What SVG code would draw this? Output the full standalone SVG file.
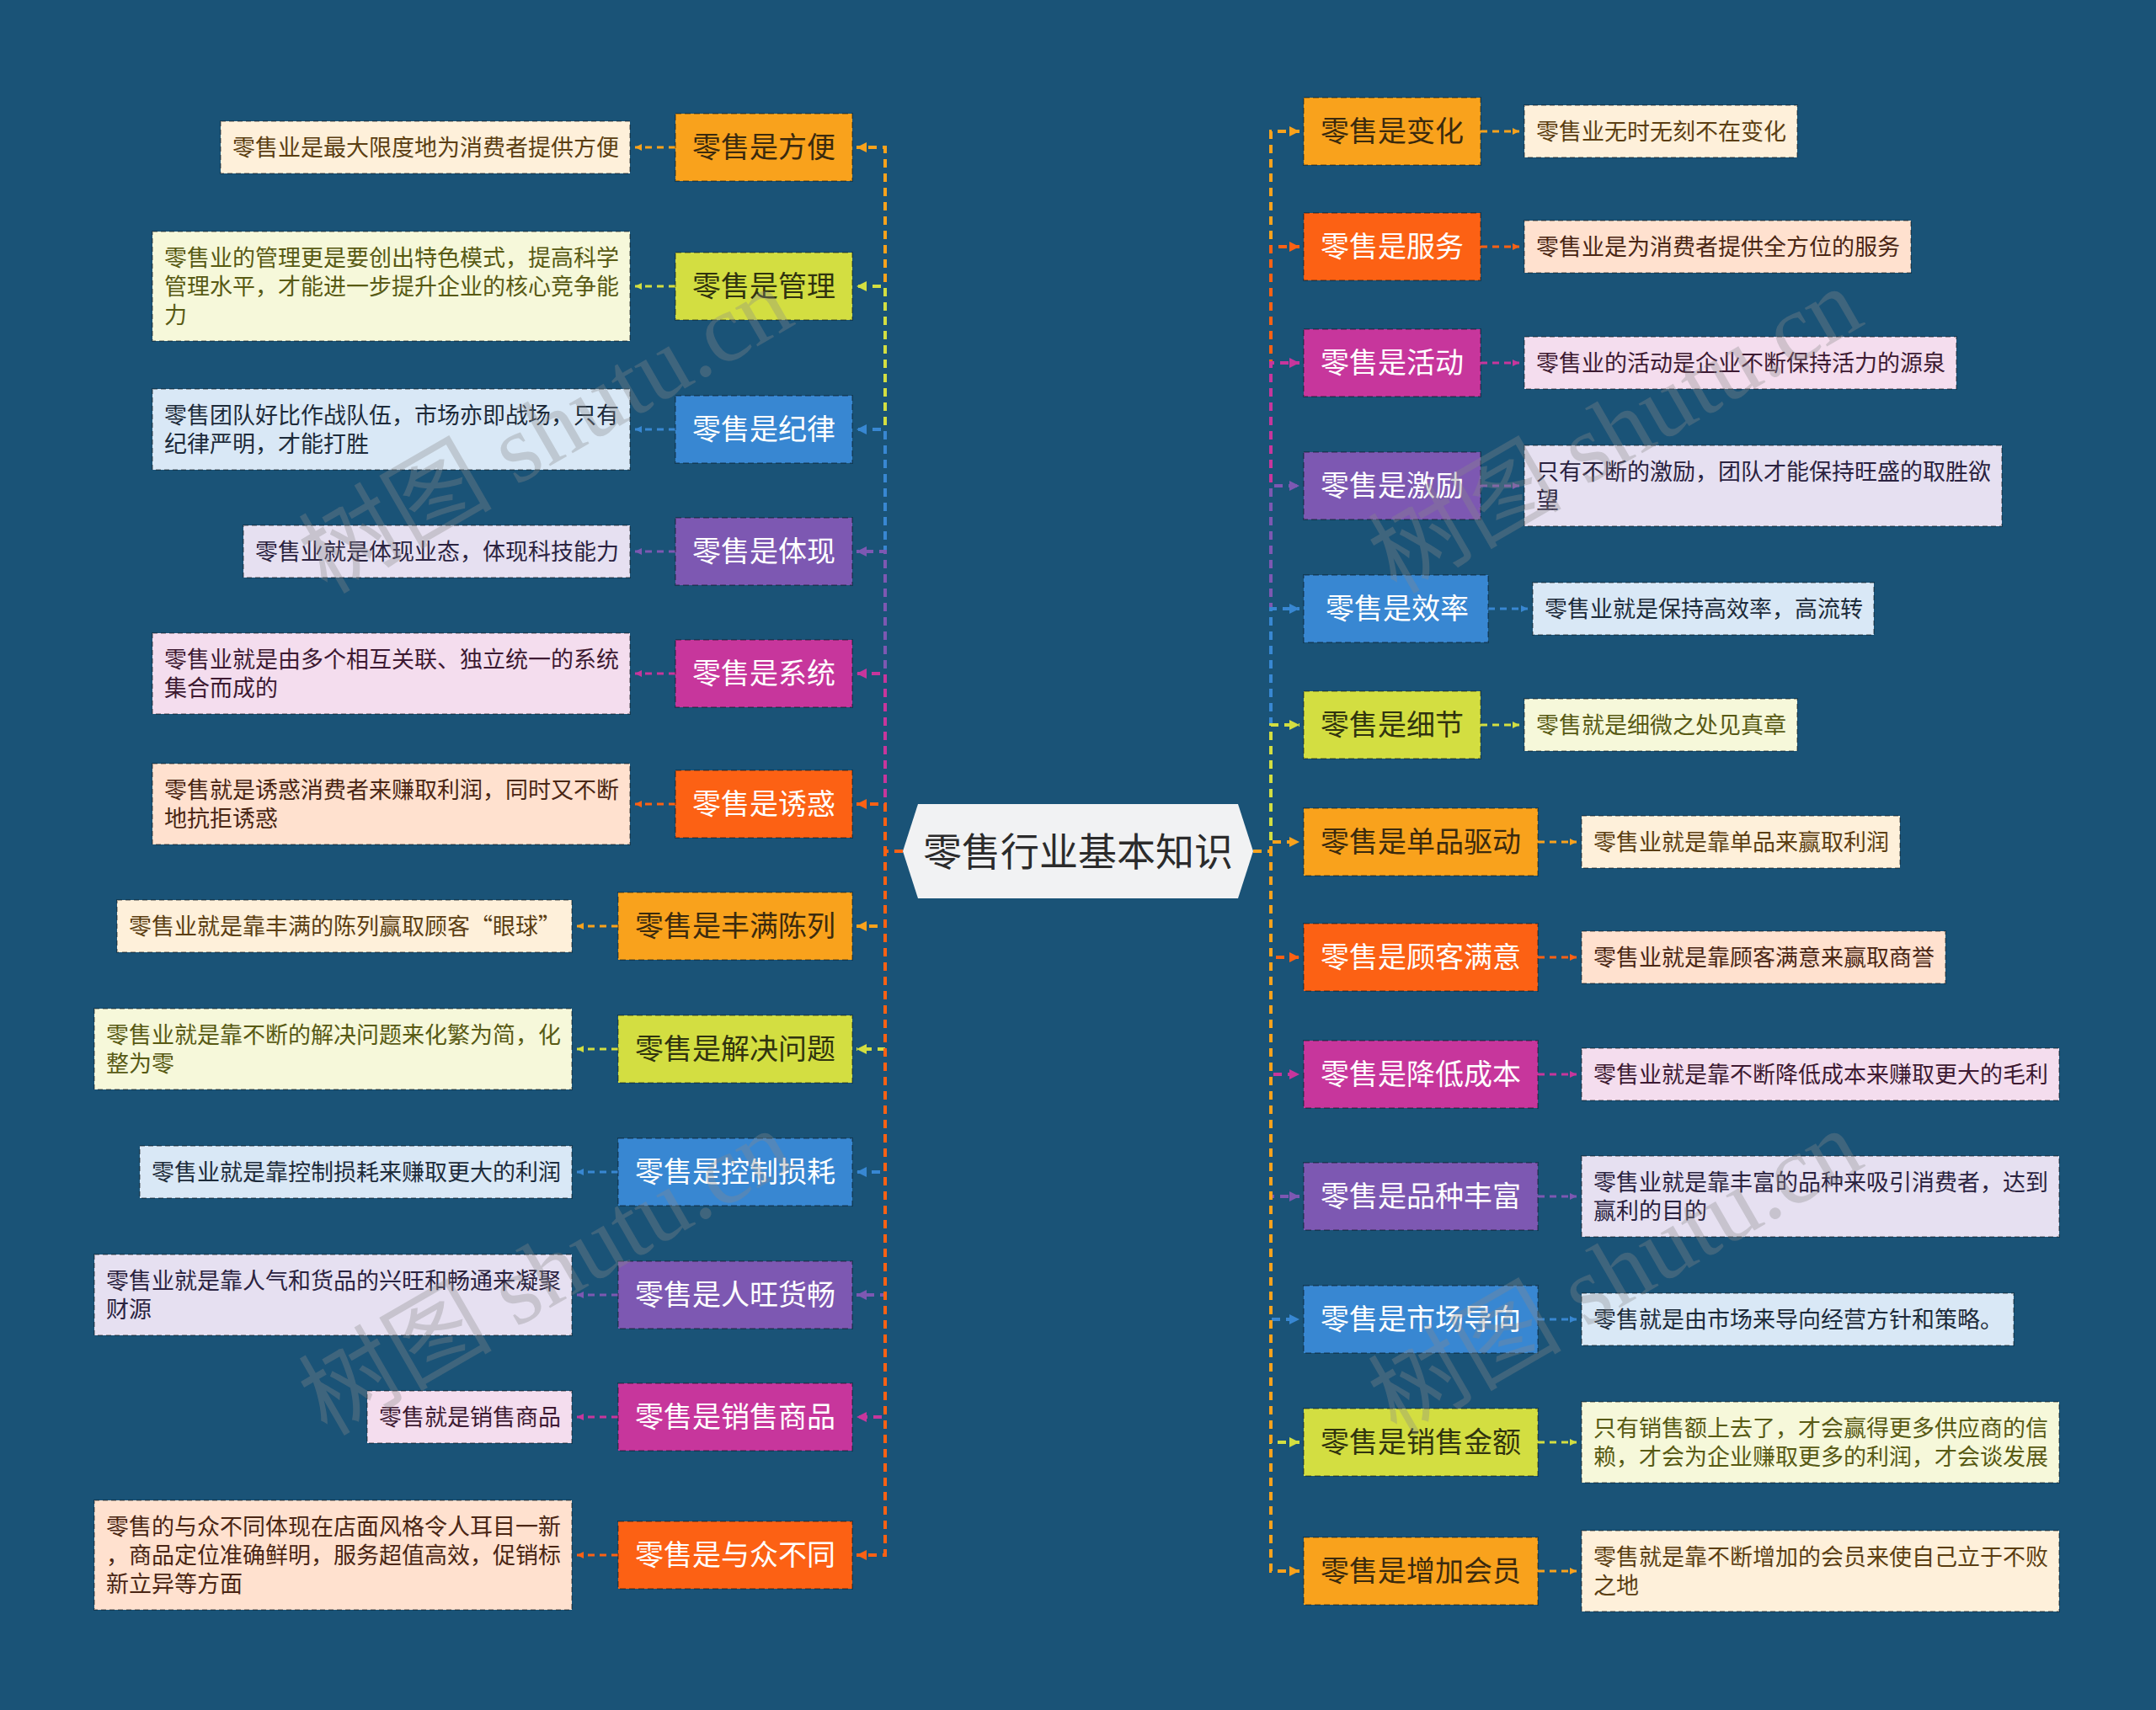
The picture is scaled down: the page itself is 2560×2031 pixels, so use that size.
<svg xmlns="http://www.w3.org/2000/svg" width="2560" height="2031" viewBox="0 0 2560 2031">
<style>
.f{font-family:"Noto Sans CJK SC","Noto Sans",sans-serif}
.tp{font-size:34px;text-anchor:middle}
.lf{font-size:27px}
.c{fill:none;stroke-width:4;stroke-dasharray:10 7}
.lc{fill:none;stroke-width:3;stroke-dasharray:8 6}
.tb{stroke:rgba(0,0,0,0.28);stroke-width:2;stroke-dasharray:7 4}
.lb{stroke:rgba(0,0,0,0.3);stroke-width:2;stroke-dasharray:6 4}
.or{fill:#F9A21C}.yg{fill:#D3DE41}.bl{fill:#3887D2}.pu{fill:#7D58B2}.mg{fill:#C7369C}.rd{fill:#FC6114}
.lor{fill:#FEF0DA}.lyg{fill:#F6F8DA}.lbl{fill:#D9E8F6}.lpu{fill:#E6E0F1}.lmg{fill:#F4DDEE}.lrd{fill:#FFE1CF}
.xor{fill:#5B3E12}.xyg{fill:#585A14}.xbl{fill:#1D2B3A}.xpu{fill:#2B2340}.xmg{fill:#3D1A32}.xrd{fill:#4A2614}
.tor{fill:#3B2A0E}.tyg{fill:#30330F}.tw{fill:#FFFFFF}
.sor{stroke:#F9A21C}.syg{stroke:#D3DE41}.sbl{stroke:#3887D2}.spu{stroke:#7D58B2}.smg{stroke:#C7369C}.srd{stroke:#FC6114}
.wm{font-family:"Liberation Serif","Noto Sans CJK SC",serif;font-size:115px;fill:#8a8a8a;opacity:0.33;text-anchor:middle}
</style>
<defs>
<marker id="a-or" viewBox="0 0 12 12" refX="12" refY="6" markerWidth="12" markerHeight="12" markerUnits="userSpaceOnUse" orient="auto"><path d="M0 0L12 6L0 12Z" fill="#F9A21C"/></marker>
<marker id="a-yg" viewBox="0 0 12 12" refX="12" refY="6" markerWidth="12" markerHeight="12" markerUnits="userSpaceOnUse" orient="auto"><path d="M0 0L12 6L0 12Z" fill="#D3DE41"/></marker>
<marker id="a-bl" viewBox="0 0 12 12" refX="12" refY="6" markerWidth="12" markerHeight="12" markerUnits="userSpaceOnUse" orient="auto"><path d="M0 0L12 6L0 12Z" fill="#3887D2"/></marker>
<marker id="a-pu" viewBox="0 0 12 12" refX="12" refY="6" markerWidth="12" markerHeight="12" markerUnits="userSpaceOnUse" orient="auto"><path d="M0 0L12 6L0 12Z" fill="#7D58B2"/></marker>
<marker id="a-mg" viewBox="0 0 12 12" refX="12" refY="6" markerWidth="12" markerHeight="12" markerUnits="userSpaceOnUse" orient="auto"><path d="M0 0L12 6L0 12Z" fill="#C7369C"/></marker>
<marker id="a-rd" viewBox="0 0 12 12" refX="12" refY="6" markerWidth="12" markerHeight="12" markerUnits="userSpaceOnUse" orient="auto"><path d="M0 0L12 6L0 12Z" fill="#FC6114"/></marker>
<marker id="s-or" viewBox="0 0 8 8" refX="8" refY="4" markerWidth="8" markerHeight="8" markerUnits="userSpaceOnUse" orient="auto"><path d="M0 0L8 4L0 8Z" fill="#F9A21C"/></marker>
<marker id="s-yg" viewBox="0 0 8 8" refX="8" refY="4" markerWidth="8" markerHeight="8" markerUnits="userSpaceOnUse" orient="auto"><path d="M0 0L8 4L0 8Z" fill="#D3DE41"/></marker>
<marker id="s-bl" viewBox="0 0 8 8" refX="8" refY="4" markerWidth="8" markerHeight="8" markerUnits="userSpaceOnUse" orient="auto"><path d="M0 0L8 4L0 8Z" fill="#3887D2"/></marker>
<marker id="s-pu" viewBox="0 0 8 8" refX="8" refY="4" markerWidth="8" markerHeight="8" markerUnits="userSpaceOnUse" orient="auto"><path d="M0 0L8 4L0 8Z" fill="#7D58B2"/></marker>
<marker id="s-mg" viewBox="0 0 8 8" refX="8" refY="4" markerWidth="8" markerHeight="8" markerUnits="userSpaceOnUse" orient="auto"><path d="M0 0L8 4L0 8Z" fill="#C7369C"/></marker>
<marker id="s-rd" viewBox="0 0 8 8" refX="8" refY="4" markerWidth="8" markerHeight="8" markerUnits="userSpaceOnUse" orient="auto"><path d="M0 0L8 4L0 8Z" fill="#FC6114"/></marker>
</defs>
<rect x="0" y="0" width="2560" height="2031" fill="#1A5377"/>

<g id="connectors">
<path class="c sor" d="M1072 1011H1051V175H1017" marker-end="url(#a-or)"/>
<path class="c syg" d="M1072 1011H1051V340H1017" marker-end="url(#a-yg)"/>
<path class="c sbl" d="M1072 1011H1051V510H1017" marker-end="url(#a-bl)"/>
<path class="c spu" d="M1072 1011H1051V655H1017" marker-end="url(#a-pu)"/>
<path class="c smg" d="M1072 1011H1051V800H1017" marker-end="url(#a-mg)"/>
<path class="c srd" d="M1072 1011H1051V955H1017" marker-end="url(#a-rd)"/>
<path class="c sor" d="M1072 1011H1051V1100H1017" marker-end="url(#a-or)"/>
<path class="c syg" d="M1072 1011H1051V1246H1017" marker-end="url(#a-yg)"/>
<path class="c sbl" d="M1072 1011H1051V1392H1017" marker-end="url(#a-bl)"/>
<path class="c spu" d="M1072 1011H1051V1538H1017" marker-end="url(#a-pu)"/>
<path class="c smg" d="M1072 1011H1051V1683H1017" marker-end="url(#a-mg)"/>
<path class="c srd" d="M1072 1011H1051V1847H1017" marker-end="url(#a-rd)"/>

<path class="c sor" d="M1488 1011H1509V156H1543" marker-end="url(#a-or)"/>
<path class="c srd" d="M1488 1011H1509V293H1543" marker-end="url(#a-rd)"/>
<path class="c smg" d="M1488 1011H1509V431H1543" marker-end="url(#a-mg)"/>
<path class="c spu" d="M1488 1011H1509V577H1543" marker-end="url(#a-pu)"/>
<path class="c sbl" d="M1488 1011H1509V723H1543" marker-end="url(#a-bl)"/>
<path class="c syg" d="M1488 1011H1509V861H1543" marker-end="url(#a-yg)"/>
<path class="c sor" d="M1488 1011H1509V1000H1543" marker-end="url(#a-or)"/>
<path class="c srd" d="M1488 1011H1509V1137H1543" marker-end="url(#a-rd)"/>
<path class="c smg" d="M1488 1011H1509V1276H1543" marker-end="url(#a-mg)"/>
<path class="c spu" d="M1488 1011H1509V1421H1543" marker-end="url(#a-pu)"/>
<path class="c sbl" d="M1488 1011H1509V1567H1543" marker-end="url(#a-bl)"/>
<path class="c syg" d="M1488 1011H1509V1713H1543" marker-end="url(#a-yg)"/>
<path class="c sor" d="M1488 1011H1509V1866H1543" marker-end="url(#a-or)"/>

<path class="lc sor" d="M802 175H754" marker-end="url(#s-or)"/>
<path class="lc syg" d="M802 340H754" marker-end="url(#s-yg)"/>
<path class="lc sbl" d="M802 510H754" marker-end="url(#s-bl)"/>
<path class="lc spu" d="M802 655H754" marker-end="url(#s-pu)"/>
<path class="lc smg" d="M802 800H754" marker-end="url(#s-mg)"/>
<path class="lc srd" d="M802 955H754" marker-end="url(#s-rd)"/>
<path class="lc sor" d="M734 1100H685" marker-end="url(#s-or)"/>
<path class="lc syg" d="M734 1246H685" marker-end="url(#s-yg)"/>
<path class="lc sbl" d="M734 1392H685" marker-end="url(#s-bl)"/>
<path class="lc spu" d="M734 1538H685" marker-end="url(#s-pu)"/>
<path class="lc smg" d="M734 1683H685" marker-end="url(#s-mg)"/>
<path class="lc srd" d="M734 1847H685" marker-end="url(#s-rd)"/>

<path class="lc sor" d="M1758 156H1804" marker-end="url(#s-or)"/>
<path class="lc srd" d="M1758 293H1804" marker-end="url(#s-rd)"/>
<path class="lc smg" d="M1758 431H1804" marker-end="url(#s-mg)"/>
<path class="lc spu" d="M1758 577H1804" marker-end="url(#s-pu)"/>
<path class="lc sbl" d="M1767 723H1814" marker-end="url(#s-bl)"/>
<path class="lc syg" d="M1758 861H1804" marker-end="url(#s-yg)"/>
<path class="lc sor" d="M1826 1000H1872" marker-end="url(#s-or)"/>
<path class="lc srd" d="M1826 1137H1872" marker-end="url(#s-rd)"/>
<path class="lc smg" d="M1826 1276H1872" marker-end="url(#s-mg)"/>
<path class="lc spu" d="M1826 1421H1872" marker-end="url(#s-pu)"/>
<path class="lc sbl" d="M1826 1567H1872" marker-end="url(#s-bl)"/>
<path class="lc syg" d="M1826 1713H1872" marker-end="url(#s-yg)"/>
<path class="lc sor" d="M1826 1866H1872" marker-end="url(#s-or)"/>
</g>

<g id="root">
<polygon points="1072,1011 1090,955 1470,955 1488,1011 1470,1067 1090,1067" fill="#F1F2F3"/>
<text class="f" x="1280" y="1028" font-size="46" text-anchor="middle" fill="#2B2B2B">零售行业基本知识</text>
</g>

<g id="L1"><rect class="or tb" x="802" y="135" width="210" height="80"/><text class="f tp tor" x="907" y="187">零售是方便</text></g>
<g id="L1-leaf"><rect class="lor lb" x="262" y="144" width="486" height="62"/><text class="f lf xor" x="276" y="185">零售业是最大限度地为消费者提供方便</text></g>
<g id="L2"><rect class="yg tb" x="802" y="300" width="210" height="80"/><text class="f tp tyg" x="907" y="352">零售是管理</text></g>
<g id="L2-leaf"><rect class="lyg lb" x="181" y="275" width="567" height="130"/><text class="f lf xyg" x="195" y="316"><tspan x="195">零售业的管理更是要创出特色模式，提高科学</tspan><tspan x="195" dy="34">管理水平，才能进一步提升企业的核心竞争能</tspan><tspan x="195" dy="34">力</tspan></text></g>
<g id="L3"><rect class="bl tb" x="802" y="470" width="210" height="80"/><text class="f tp tw" x="907" y="522">零售是纪律</text></g>
<g id="L3-leaf"><rect class="lbl lb" x="181" y="462" width="567" height="96"/><text class="f lf xbl" x="195" y="503"><tspan x="195">零售团队好比作战队伍，市场亦即战场，只有</tspan><tspan x="195" dy="34">纪律严明，才能打胜</tspan></text></g>
<g id="L4"><rect class="pu tb" x="802" y="615" width="210" height="80"/><text class="f tp tw" x="907" y="667">零售是体现</text></g>
<g id="L4-leaf"><rect class="lpu lb" x="289" y="624" width="459" height="62"/><text class="f lf xpu" x="303" y="665">零售业就是体现业态，体现科技能力</text></g>
<g id="L5"><rect class="mg tb" x="802" y="760" width="210" height="80"/><text class="f tp tw" x="907" y="812">零售是系统</text></g>
<g id="L5-leaf"><rect class="lmg lb" x="181" y="752" width="567" height="96"/><text class="f lf xmg" x="195" y="793"><tspan x="195">零售业就是由多个相互关联、独立统一的系统</tspan><tspan x="195" dy="34">集合而成的</tspan></text></g>
<g id="L6"><rect class="rd tb" x="802" y="915" width="210" height="80"/><text class="f tp tw" x="907" y="967">零售是诱惑</text></g>
<g id="L6-leaf"><rect class="lrd lb" x="181" y="907" width="567" height="96"/><text class="f lf xrd" x="195" y="948"><tspan x="195">零售就是诱惑消费者来赚取利润，同时又不断</tspan><tspan x="195" dy="34">地抗拒诱惑</tspan></text></g>
<g id="L7"><rect class="or tb" x="734" y="1060" width="278" height="80"/><text class="f tp tor" x="873" y="1112">零售是丰满陈列</text></g>
<g id="L7-leaf"><rect class="lor lb" x="139" y="1069" width="540" height="62"/><text class="f lf xor" x="153" y="1110">零售业就是靠丰满的陈列赢取顾客“眼球”</text></g>
<g id="L8"><rect class="yg tb" x="734" y="1206" width="278" height="80"/><text class="f tp tyg" x="873" y="1258">零售是解决问题</text></g>
<g id="L8-leaf"><rect class="lyg lb" x="112" y="1198" width="567" height="96"/><text class="f lf xyg" x="126" y="1239"><tspan x="126">零售业就是靠不断的解决问题来化繁为简，化</tspan><tspan x="126" dy="34">整为零</tspan></text></g>
<g id="L9"><rect class="bl tb" x="734" y="1352" width="278" height="80"/><text class="f tp tw" x="873" y="1404">零售是控制损耗</text></g>
<g id="L9-leaf"><rect class="lbl lb" x="166" y="1361" width="513" height="62"/><text class="f lf xbl" x="180" y="1402">零售业就是靠控制损耗来赚取更大的利润</text></g>
<g id="L10"><rect class="pu tb" x="734" y="1498" width="278" height="80"/><text class="f tp tw" x="873" y="1550">零售是人旺货畅</text></g>
<g id="L10-leaf"><rect class="lpu lb" x="112" y="1490" width="567" height="96"/><text class="f lf xpu" x="126" y="1531"><tspan x="126">零售业就是靠人气和货品的兴旺和畅通来凝聚</tspan><tspan x="126" dy="34">财源</tspan></text></g>
<g id="L11"><rect class="mg tb" x="734" y="1643" width="278" height="80"/><text class="f tp tw" x="873" y="1695">零售是销售商品</text></g>
<g id="L11-leaf"><rect class="lmg lb" x="436" y="1652" width="243" height="62"/><text class="f lf xmg" x="450" y="1693">零售就是销售商品</text></g>
<g id="L12"><rect class="rd tb" x="734" y="1807" width="278" height="80"/><text class="f tp tw" x="873" y="1859">零售是与众不同</text></g>
<g id="L12-leaf"><rect class="lrd lb" x="112" y="1782" width="567" height="130"/><text class="f lf xrd" x="126" y="1823"><tspan x="126">零售的与众不同体现在店面风格令人耳目一新</tspan><tspan x="126" dy="34">，商品定位准确鲜明，服务超值高效，促销标</tspan><tspan x="126" dy="34">新立异等方面</tspan></text></g>

<g id="R1"><rect class="or tb" x="1548" y="116" width="210" height="80"/><text class="f tp tor" x="1653" y="168">零售是变化</text></g>
<g id="R1-leaf"><rect class="lor lb" x="1810" y="125" width="324" height="62"/><text class="f lf xor" x="1824" y="166">零售业无时无刻不在变化</text></g>
<g id="R2"><rect class="rd tb" x="1548" y="253" width="210" height="80"/><text class="f tp tw" x="1653" y="305">零售是服务</text></g>
<g id="R2-leaf"><rect class="lrd lb" x="1810" y="262" width="459" height="62"/><text class="f lf xrd" x="1824" y="303">零售业是为消费者提供全方位的服务</text></g>
<g id="R3"><rect class="mg tb" x="1548" y="391" width="210" height="80"/><text class="f tp tw" x="1653" y="443">零售是活动</text></g>
<g id="R3-leaf"><rect class="lmg lb" x="1810" y="400" width="513" height="62"/><text class="f lf xmg" x="1824" y="441">零售业的活动是企业不断保持活力的源泉</text></g>
<g id="R4"><rect class="pu tb" x="1548" y="537" width="210" height="80"/><text class="f tp tw" x="1653" y="589">零售是激励</text></g>
<g id="R4-leaf"><rect class="lpu lb" x="1810" y="529" width="567" height="96"/><text class="f lf xpu" x="1824" y="570"><tspan x="1824">只有不断的激励，团队才能保持旺盛的取胜欲</tspan><tspan x="1824" dy="34">望</tspan></text></g>
<g id="R5"><rect class="bl tb" x="1548" y="683" width="219" height="80"/><text class="f tp tw" x="1659" y="735">零售是效率</text></g>
<g id="R5-leaf"><rect class="lbl lb" x="1820" y="692" width="405" height="62"/><text class="f lf xbl" x="1834" y="733">零售业就是保持高效率，高流转</text></g>
<g id="R6"><rect class="yg tb" x="1548" y="821" width="210" height="80"/><text class="f tp tyg" x="1653" y="873">零售是细节</text></g>
<g id="R6-leaf"><rect class="lyg lb" x="1810" y="830" width="324" height="62"/><text class="f lf xyg" x="1824" y="871">零售就是细微之处见真章</text></g>
<g id="R7"><rect class="or tb" x="1548" y="960" width="278" height="80"/><text class="f tp tor" x="1687" y="1012">零售是单品驱动</text></g>
<g id="R7-leaf"><rect class="lor lb" x="1878" y="969" width="378" height="62"/><text class="f lf xor" x="1892" y="1010">零售业就是靠单品来赢取利润</text></g>
<g id="R8"><rect class="rd tb" x="1548" y="1097" width="278" height="80"/><text class="f tp tw" x="1687" y="1149">零售是顾客满意</text></g>
<g id="R8-leaf"><rect class="lrd lb" x="1878" y="1106" width="432" height="62"/><text class="f lf xrd" x="1892" y="1147">零售业就是靠顾客满意来赢取商誉</text></g>
<g id="R9"><rect class="mg tb" x="1548" y="1236" width="278" height="80"/><text class="f tp tw" x="1687" y="1288">零售是降低成本</text></g>
<g id="R9-leaf"><rect class="lmg lb" x="1878" y="1245" width="567" height="62"/><text class="f lf xmg" x="1892" y="1286">零售业就是靠不断降低成本来赚取更大的毛利</text></g>
<g id="R10"><rect class="pu tb" x="1548" y="1381" width="278" height="80"/><text class="f tp tw" x="1687" y="1433">零售是品种丰富</text></g>
<g id="R10-leaf"><rect class="lpu lb" x="1878" y="1373" width="567" height="96"/><text class="f lf xpu" x="1892" y="1414"><tspan x="1892">零售业就是靠丰富的品种来吸引消费者，达到</tspan><tspan x="1892" dy="34">赢利的目的</tspan></text></g>
<g id="R11"><rect class="bl tb" x="1548" y="1527" width="278" height="80"/><text class="f tp tw" x="1687" y="1579">零售是市场导向</text></g>
<g id="R11-leaf"><rect class="lbl lb" x="1878" y="1536" width="513" height="62"/><text class="f lf xbl" x="1892" y="1577">零售就是由市场来导向经营方针和策略。</text></g>
<g id="R12"><rect class="yg tb" x="1548" y="1673" width="278" height="80"/><text class="f tp tyg" x="1687" y="1725">零售是销售金额</text></g>
<g id="R12-leaf"><rect class="lyg lb" x="1878" y="1665" width="567" height="96"/><text class="f lf xyg" x="1892" y="1706"><tspan x="1892">只有销售额上去了，才会赢得更多供应商的信</tspan><tspan x="1892" dy="34">赖，才会为企业赚取更多的利润，才会谈发展</tspan></text></g>
<g id="R13"><rect class="or tb" x="1548" y="1826" width="278" height="80"/><text class="f tp tor" x="1687" y="1878">零售是增加会员</text></g>
<g id="R13-leaf"><rect class="lor lb" x="1878" y="1818" width="567" height="96"/><text class="f lf xor" x="1892" y="1859"><tspan x="1892">零售就是靠不断增加的会员来使自己立于不败</tspan><tspan x="1892" dy="34">之地</tspan></text></g>

<g id="watermarks">
<text class="wm" transform="translate(650 515) rotate(-30)" y="35">树图 shutu.cn</text>
<text class="wm" transform="translate(650 1515) rotate(-30)" y="35">树图 shutu.cn</text>
<text class="wm" transform="translate(1920 515) rotate(-30)" y="35">树图 shutu.cn</text>
<text class="wm" transform="translate(1920 1515) rotate(-30)" y="35">树图 shutu.cn</text>
</g>
</svg>
